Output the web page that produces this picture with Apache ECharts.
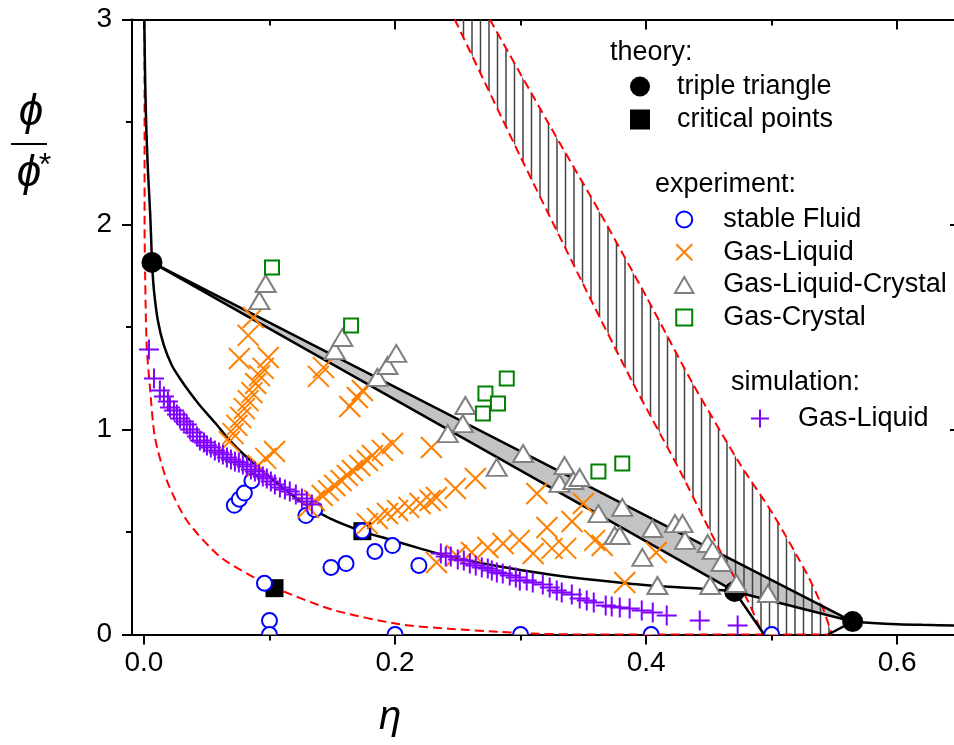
<!DOCTYPE html>
<html>
<head>
<meta charset="utf-8">
<script src="https://cdn.jsdelivr.net/npm/echarts@6/dist/echarts.min.js"></script>
<style>
  html, body { margin: 0; padding: 0; background: #fff; }
  #chart { width: 954px; height: 745px; }
</style>
</head>
<body>
<div id="chart"></div>
<script>
// ---- axes ----
const X_MIN = -0.0095, X_MAX = 0.65;
const X_MAJOR = [0, 0.2, 0.4, 0.6];
const X_MINOR = [0.1, 0.3, 0.5];
const Y_MIN = 0, Y_MAX = 3, Y_STEP = 1;

// ---- theory ----
const triplePoints = [[0.0064, 1.815], [0.4705, 0.21], [0.5645, 0.063]];
const criticalPoints = [[0.104, 0.226], [0.174, 0.504]];
const gasCrystalBranch = [[0.0003, 3.0], [0.0010, 2.7], [0.0020, 2.45], [0.0033, 2.25], [0.0050, 2.05], [0.0064, 1.815]];
const gasLiquidBinodal = [
  [0.0064, 1.815], [0.008, 1.678], [0.0111, 1.532], [0.0159, 1.41], [0.0223, 1.312], [0.0287, 1.249],
  [0.0366, 1.18], [0.0446, 1.117], [0.0565, 1.034], [0.0685, 0.946], [0.0804, 0.873], [0.0924, 0.81],
  [0.1083, 0.727], [0.1298, 0.629], [0.1481, 0.566], [0.172, 0.507], [0.1959, 0.463], [0.2197, 0.42],
  [0.2436, 0.38], [0.2834, 0.332], [0.3232, 0.293], [0.3631, 0.263], [0.4029, 0.239], [0.4427, 0.224],
  [0.4705, 0.21]
];
const crystalTail = [[0.5645, 0.063], [0.58, 0.056], [0.6, 0.05], [0.62, 0.047], [0.65, 0.044]];
const freezingLine = [[0.4705, 0.21], [0.494, 0]];
const meltingLine = [[0.5645, 0.063], [0.545, 0]];
const redLower = [
  [0.0005, 3.0], [0.0005, 2.0], [0.0008, 1.815], [0.0016, 1.532], [0.0024, 1.385], [0.0048, 1.205],
  [0.0088, 0.961], [0.0183, 0.751], [0.0342, 0.556], [0.0605, 0.38], [0.09, 0.27], [0.104, 0.228],
  [0.1505, 0.12], [0.2038, 0.05], [0.2436, 0.028], [0.2834, 0.013], [0.3073, 0.005], [0.35, 0], [0.548, 0]
];
const redBandLeft = [
  [0.2476, 3.0], [0.2994, 2.337], [0.3551, 1.644], [0.3893, 1.229], [0.4268, 0.8],
  [0.4467, 0.556], [0.465, 0.337], [0.4809, 0.166], [0.4928, 0]
];
const redBandRight = [
  [0.2755, 3.0], [0.3232, 2.483], [0.3631, 2.059], [0.4005, 1.644], [0.4371, 1.224],
  [0.4745, 0.834], [0.5008, 0.59], [0.5279, 0.298], [0.5406, 0.132], [0.548, 0]
];

// ---- experiment ----
const stableFluid = [
  [0.072, 0.63], [0.076, 0.66], [0.080, 0.69], [0.086, 0.75], [0.129, 0.58], [0.136, 0.61],
  [0.174, 0.505], [0.184, 0.405], [0.198, 0.434], [0.149, 0.327], [0.161, 0.346], [0.096, 0.25],
  [0.1, 0.068], [0.1, 0], [0.2, 0], [0.219, 0.337], [0.3, 0], [0.404, 0], [0.5, 0]
];
const gasLiquidExp = [
  [0.068, 0.941], [0.071, 0.98], [0.074, 1.02], [0.077, 1.059], [0.080, 1.102], [0.083, 1.141],
  [0.086, 1.18], [0.089, 1.224], [0.092, 1.263], [0.095, 1.298], [0.099, 1.351],
  [0.076, 1.346], [0.083, 1.459], [0.087, 1.546],
  [0.091, 0.824], [0.097, 0.859], [0.104, 0.893],
  [0.139, 1.259], [0.143, 1.302], [0.164, 1.112], [0.170, 1.156], [0.174, 1.19],
  [0.131, 0.62], [0.136, 0.654], [0.142, 0.678], [0.147, 0.702], [0.152, 0.727], [0.157, 0.751],
  [0.162, 0.776], [0.166, 0.8], [0.172, 0.824], [0.178, 0.849], [0.182, 0.873], [0.190, 0.898], [0.198, 0.932],
  [0.229, 0.912],
  [0.178, 0.541], [0.186, 0.566], [0.194, 0.59], [0.202, 0.605], [0.211, 0.62], [0.220, 0.639],
  [0.228, 0.654], [0.233, 0.668], [0.248, 0.712], [0.264, 0.761],
  [0.233, 0.351], [0.249, 0.385], [0.261, 0.4], [0.274, 0.424], [0.286, 0.444], [0.299, 0.459],
  [0.310, 0.395], [0.325, 0.42], [0.336, 0.42],
  [0.313, 0.688], [0.350, 0.639], [0.321, 0.522], [0.341, 0.551], [0.359, 0.459], [0.365, 0.434],
  [0.383, 0.254], [0.408, 0.4]
];
const gasLiquidCrystal = [
  [0.092, 1.629], [0.097, 1.712], [0.152, 1.385], [0.158, 1.449], [0.186, 1.254], [0.194, 1.312],
  [0.201, 1.371], [0.242, 0.98], [0.254, 1.029], [0.256, 1.117], [0.281, 0.815], [0.302, 0.883],
  [0.331, 0.737], [0.335, 0.824], [0.342, 0.751], [0.347, 0.766], [0.362, 0.59], [0.381, 0.62],
  [0.375, 0.483], [0.379, 0.483], [0.397, 0.376], [0.405, 0.517], [0.409, 0.239], [0.423, 0.541],
  [0.429, 0.541], [0.431, 0.459], [0.449, 0.444], [0.453, 0.41], [0.460, 0.351], [0.451, 0.239],
  [0.472, 0.249], [0.497, 0.2]
];
const gasCrystal = [
  [0.102, 1.79], [0.165, 1.507], [0.272, 1.176], [0.282, 1.127], [0.270, 1.078], [0.289, 1.249],
  [0.362, 0.795], [0.381, 0.834]
];

// ---- simulation ----
const gasLiquidSim = [
  [0.004, 1.39], [0.008, 1.249], [0.0127, 1.19], [0.0159, 1.161], [0.0191, 1.137], [0.0207, 1.107],
  [0.0239, 1.093], [0.0263, 1.073], [0.0287, 1.054], [0.0318, 1.039], [0.0342, 1.024], [0.0366, 1.0],
  [0.039, 0.985], [0.0422, 0.966], [0.0446, 0.946], [0.0478, 0.937], [0.0502, 0.922], [0.0533, 0.912],
  [0.0565, 0.898], [0.0597, 0.888], [0.0629, 0.878], [0.0661, 0.863], [0.0693, 0.854], [0.0725, 0.844],
  [0.0756, 0.839], [0.0788, 0.829], [0.082, 0.82], [0.0852, 0.805], [0.0884, 0.795], [0.0916, 0.78],
  [0.0947, 0.771], [0.0979, 0.761], [0.1011, 0.746], [0.1043, 0.732], [0.1083, 0.717], [0.1123, 0.707],
  [0.1162, 0.698], [0.121, 0.683], [0.1258, 0.663], [0.1298, 0.649], [0.1338, 0.634],
  [0.2365, 0.395], [0.2404, 0.38], [0.2444, 0.38], [0.25, 0.366], [0.2548, 0.361], [0.2596, 0.346],
  [0.2643, 0.337], [0.2691, 0.327], [0.2739, 0.322], [0.2771, 0.312], [0.2811, 0.302], [0.2858, 0.298],
  [0.2914, 0.288], [0.2962, 0.278], [0.2994, 0.263], [0.3049, 0.263], [0.3097, 0.254], [0.3177, 0.244],
  [0.3232, 0.229], [0.3288, 0.215], [0.3328, 0.205], [0.3408, 0.195], [0.3471, 0.176], [0.3527, 0.166],
  [0.3583, 0.156], [0.3678, 0.141], [0.3726, 0.137], [0.379, 0.132], [0.3869, 0.127], [0.3965, 0.117],
  [0.4053, 0.107], [0.4164, 0.093], [0.4427, 0.068], [0.4729, 0.044]
];

// ---- styling ----
const FONT = '"Liberation Sans", Arial, sans-serif';
const SYM_X = 'path://M0,0L10,10M10,0L0,10';
const SYM_PLUS = 'path://M5,0L5,10M0,5L10,5';
const SYM_TRI = 'path://M5,0L10,8.66L0,8.66Z';
const SYM_SQ = 'path://M0,0L10,0L10,10L0,10Z';
const C_BLUE = '#0000ff', C_ORANGE = '#ff8000', C_GREY = '#808080', C_GREEN = '#008000', C_PURPLE = '#7f00ff';

// vertical hatch used between the two dashed boundaries
function hatchPattern() {
  const c = document.createElement('canvas');
  c.width = 17; c.height = 4;
  const g = c.getContext('2d');
  g.strokeStyle = '#444';
  g.lineWidth = 1.5;
  g.beginPath();
  g.moveTo(4.5, 0); g.lineTo(4.5, 4);
  g.moveTo(13, 0); g.lineTo(13, 4);
  g.stroke();
  return c;
}
const HATCH = hatchPattern();

function curve(data, color, width, dashed, smooth, z) {
  return {
    type: 'line', data: data, symbol: 'none', showSymbol: false, smooth: smooth || false,
    lineStyle: { color: color, width: width, type: dashed ? [9, 5] : 'solid' },
    silent: true, z: z || 3, animation: false
  };
}

function polygonSeries(getPoints, style, z) {
  return {
    type: 'custom', coordinateSystem: 'cartesian2d', data: [[0, 0]], silent: true, z: z,
    renderItem: function (params, api) {
      return { type: 'polygon', shape: { points: getPoints().map(p => api.coord(p)) }, style: style };
    }
  };
}

function markers(name, data, symbol, size, itemStyle, z) {
  return {
    name: name, type: 'scatter', data: data, symbol: symbol, symbolSize: size,
    itemStyle: Object.assign({ opacity: 1 }, itemStyle), z: z, silent: true
  };
}

function xAxisDef(position, ticks, len, inside, showLine, showLabel) {
  return {
    type: 'value', position: position, min: X_MIN, max: X_MAX,
    axisLine: { show: showLine, onZero: false, lineStyle: { color: '#000', width: 2 } },
    axisTick: { show: true, inside: inside, length: len, customValues: ticks, lineStyle: { color: '#000', width: 2 } },
    axisLabel: showLabel ? {
      show: true, customValues: ticks, formatter: v => v.toFixed(1),
      fontSize: 28, color: '#000', fontFamily: FONT, margin: 15
    } : { show: false },
    splitLine: { show: false }
  };
}

function yAxisDef(position, inside, showLabel) {
  return {
    type: 'value', position: position, min: Y_MIN, max: Y_MAX, interval: Y_STEP,
    axisLine: { show: true, onZero: false, lineStyle: { color: '#000', width: 2 } },
    axisTick: { show: true, inside: inside, length: 10, lineStyle: { color: '#000', width: 2 } },
    minorTick: { show: true, splitNumber: 2, length: 6, lineStyle: { color: '#000', width: 2 } },
    axisLabel: showLabel ? { show: true, fontSize: 28, color: '#000', fontFamily: FONT, margin: 20 } : { show: false },
    splitLine: { show: false }, minorSplitLine: { show: false }
  };
}

const legendText = { fontSize: 27, color: '#000', fontFamily: FONT };

const option = {
  animation: false,
  backgroundColor: '#fff',
  grid: { left: 132, right: -6, top: 19.5, bottom: 110.5, containLabel: false, outerBoundsMode: 'none' },
  xAxis: [
    xAxisDef('bottom', X_MAJOR, 10, false, true, true),
    xAxisDef('bottom', X_MINOR, 6, false, false, false),
    xAxisDef('top', X_MAJOR, 10, true, true, false),
    xAxisDef('top', X_MINOR, 6, true, false, false)
  ],
  yAxis: [
    yAxisDef('left', false, true),
    yAxisDef('right', true, false)
  ],
  legend: [
    {
      orient: 'vertical', left: 630, top: 73, padding: 0, itemWidth: 64, itemHeight: 20, itemGap: 6,
      selectedMode: false, textStyle: legendText,
      data: [
        { name: 'triple triangle', icon: 'circle', itemStyle: { color: '#000', borderWidth: 0, opacity: 1 } },
        { name: 'critical points', icon: SYM_SQ, itemStyle: { color: '#000', borderWidth: 0, opacity: 1 } }
      ]
    },
    {
      orient: 'vertical', left: 674, top: 206, padding: 0, itemWidth: 68, itemHeight: 16, itemGap: 5.7,
      selectedMode: false, textStyle: legendText,
      data: [
        { name: 'stable Fluid', icon: 'circle', itemStyle: { color: '#fff', borderColor: C_BLUE, borderWidth: 2, opacity: 1 } },
        { name: 'Gas-Liquid', icon: SYM_X, itemStyle: { color: C_ORANGE, borderColor: C_ORANGE, borderWidth: 2, opacity: 1 } },
        { name: 'Gas-Liquid-Crystal', icon: SYM_TRI, itemStyle: { color: '#fff', borderColor: C_GREY, borderWidth: 2, opacity: 1 } },
        { name: 'Gas-Crystal', icon: SYM_SQ, itemStyle: { color: '#fff', borderColor: C_GREEN, borderWidth: 2, opacity: 1 } }
      ]
    },
    {
      orient: 'vertical', left: 750, top: 405, padding: 0, itemWidth: 66, itemHeight: 18, itemGap: 6,
      selectedMode: false, textStyle: legendText,
      data: [
        { name: 'Gas-Liquid', icon: SYM_PLUS, itemStyle: { color: C_PURPLE, borderColor: C_PURPLE, borderWidth: 2, opacity: 1 } }
      ]
    }
  ],
  graphic: [
    { type: 'text', x: 610, y: 53, style: { text: 'theory:', fontSize: 27, fontFamily: FONT, fill: '#000', verticalAlign: 'middle' } },
    { type: 'text', x: 655, y: 185, style: { text: 'experiment:', fontSize: 27, fontFamily: FONT, fill: '#000', verticalAlign: 'middle' } },
    { type: 'text', x: 731, y: 383, style: { text: 'simulation:', fontSize: 27, fontFamily: FONT, fill: '#000', verticalAlign: 'middle' } },
    // axis titles
    { type: 'text', x: 390, y: 718, style: { text: 'η', fontSize: 40, fontStyle: 'italic', fontFamily: FONT, fill: '#000', align: 'center', verticalAlign: 'middle' } },
    { type: 'text', x: 31, y: 113, style: { text: 'ϕ', fontSize: 44, fontStyle: 'italic', fontFamily: FONT, fill: '#000', align: 'center', verticalAlign: 'middle' } },
    { type: 'line', shape: { x1: 11, y1: 144, x2: 47, y2: 144 }, style: { stroke: '#000', lineWidth: 2 } },
    { type: 'text', x: 29, y: 174, style: { text: 'ϕ', fontSize: 44, fontStyle: 'italic', fontFamily: FONT, fill: '#000', align: 'center', verticalAlign: 'middle' } },
    { type: 'text', x: 45, y: 166, style: { text: '*', fontSize: 32, fontFamily: FONT, fill: '#000', align: 'center', verticalAlign: 'middle' } }
  ],
  series: [
    // grey triple triangle area
    polygonSeries(() => triplePoints, { fill: '#c3c3c3', stroke: null }, 1),
    // hatched band between the dashed boundaries
    polygonSeries(() => redBandRight.concat(redBandLeft.slice().reverse()),
      { fill: { image: HATCH, repeat: 'repeat' }, stroke: null }, 1),
    // dashed curves
    curve(redLower, '#ff0000', 2, true, 0.25, 2),
    curve(redBandLeft, '#ff0000', 2, true, 0.2, 2),
    curve(redBandRight, '#ff0000', 2, true, 0.2, 2),
    // solid theory lines
    curve(gasCrystalBranch, '#000', 2.5, false, 0.3, 3),
    curve(gasLiquidBinodal, '#000', 2.5, false, 0.3, 3),
    curve(crystalTail, '#000', 2.5, false, 0.3, 3),
    curve(freezingLine, '#000', 2.5, false, false, 3),
    curve(meltingLine, '#000', 2.5, false, false, 3),
    curve(triplePoints.concat([triplePoints[0]]), '#000', 2.5, false, false, 3),
    // markers
    markers('triple triangle', triplePoints, 'circle', 21, { color: '#000' }, 4),
    markers('critical points', criticalPoints, SYM_SQ, 18, { color: '#000' }, 4),
    // open circles drawn as a clipped custom series so points on the axis show as half circles
    {
      name: 'stable Fluid', type: 'custom', coordinateSystem: 'cartesian2d', data: stableFluid,
      encode: { x: 0, y: 1 }, clip: true, silent: true, z: 5,
      itemStyle: { color: C_BLUE },
      renderItem: function (params, api) {
        const p = api.coord([api.value(0), api.value(1)]);
        return { type: 'circle', shape: { cx: p[0], cy: p[1], r: 7.5 }, style: { fill: '#fff', stroke: C_BLUE, lineWidth: 2 } };
      }
    },
    markers('Gas-Liquid', gasLiquidExp, SYM_X, 21, { color: C_ORANGE, borderColor: C_ORANGE, borderWidth: 2 }, 5),
    markers('Gas-Liquid-Crystal', gasLiquidCrystal, SYM_TRI, [20, 17], { color: '#fff', borderColor: C_GREY, borderWidth: 2 }, 5),
    markers('Gas-Crystal', gasCrystal, SYM_SQ, 14, { color: '#fff', borderColor: C_GREEN, borderWidth: 2 }, 5),
    markers('Gas-Liquid', gasLiquidSim, SYM_PLUS, 20, { color: C_PURPLE, borderColor: C_PURPLE, borderWidth: 2 }, 5)
  ]
};

const chart = echarts.init(document.getElementById('chart'), null, { renderer: 'canvas' });
chart.setOption(option);
</script>
</body>
</html>
